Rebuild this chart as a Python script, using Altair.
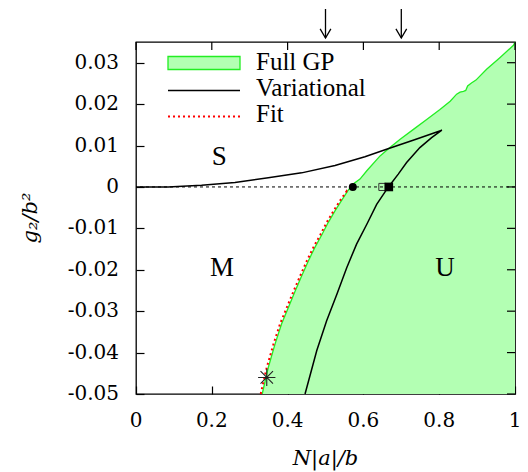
import altair as alt
import pandas as pd

# ---------------- data ----------------
# Full GP region: left boundary (x as a function of g2/b^2); region fills to x = 1
gp_x = [0.333, 0.349, 0.367, 0.384, 0.402, 0.420, 0.437, 0.455, 0.472, 0.490,
        0.507, 0.525, 0.543, 0.560, 0.573, 0.591, 0.609, 0.644, 0.670, 0.697,
        0.732, 0.767, 0.802, 0.829, 0.846, 0.855, 0.864, 0.870, 0.875, 0.885,
        0.897, 0.925, 0.960, 0.996, 1.0]
gp_y = [-0.0500, -0.0436, -0.0379, -0.0331, -0.0291, -0.0251, -0.0215, -0.0178, -0.0146, -0.0116,
        -0.0086, -0.0058, -0.0032, -0.0008, 0.0007, 0.0019, 0.0039, 0.0075, 0.0095, 0.0115,
        0.0139, 0.0163, 0.0187, 0.0207, 0.0224, 0.0229, 0.0231, 0.0233, 0.0244, 0.0251,
        0.0258, 0.0284, 0.0312, 0.0342, 0.0350]

# Variational curve (upper branch from the origin to the cusp, then the lower branch)
var_x = [0.0, 0.085, 0.173, 0.261, 0.349, 0.437, 0.525, 0.604, 0.661, 0.735, 0.807,
         0.780, 0.749, 0.714, 0.692, 0.666, 0.635, 0.609, 0.582, 0.556, 0.530, 0.503, 0.477, 0.446]
var_y = [0.0, 0.0, 0.0004, 0.0011, 0.0022, 0.0034, 0.0052, 0.0073, 0.0091, 0.0114, 0.0137,
         0.0119, 0.0095, 0.0059, 0.0031, 0.0, -0.0042, -0.0090, -0.0138, -0.0195, -0.0259, -0.0323, -0.0395, -0.0500]

# Fit curve
fit_x = [0.329, 0.345, 0.363, 0.380, 0.398, 0.416, 0.433, 0.451, 0.468, 0.486,
         0.503, 0.521, 0.539, 0.556, 0.560]
fit_y = [-0.0500, -0.0436, -0.0379, -0.0331, -0.0291, -0.0251, -0.0215, -0.0178, -0.0146, -0.0116,
         -0.0086, -0.0058, -0.0032, -0.0010, -0.0015]

x_ticks = [0, 0.2, 0.4, 0.6, 0.8, 1]
x_tick_labels = ["0", "0.2", "0.4", "0.6", "0.8", "1"]
y_ticks = [-0.05, -0.04, -0.03, -0.02, -0.01, 0, 0.01, 0.02, 0.03]
y_tick_labels = ["-0.05", "-0.04", "-0.03", "-0.02", "-0.01", "0", "0.01", "0.02", "0.03"]
x_title = "N|a|/b"
y_title = "g₂/b²"

circle_x, circle_y = [0.572], [0.0]
open_sq_x, open_sq_y = [0.650], [0.0]
filled_sq_x, filled_sq_y = [0.667], [0.0]
star_x, star_y = [0.345], [-0.046]
arrow_x = [0.5, 0.7]

region_labels = ["S", "M", "U"]
region_x = [0.22, 0.227, 0.815]
region_y = [0.0072, -0.0195, -0.0195]

legend_labels = ["Full GP", "Variational", "Fit"]

# ---------------- chart ----------------
W, H = 379, 352
FONT = "Liberation Serif"
NUMFONT = "DejaVu Serif"
FILL = "#b3ffb3"
EDGE = "#22ee22"

xs = alt.Scale(domain=[0, 1], nice=False, zero=False)
ys = alt.Scale(domain=[-0.05, 0.035], nice=False, zero=False)

gp = pd.DataFrame({"x": gp_x, "y": gp_y, "xr": [1.0] * len(gp_x), "i": range(len(gp_x))})
var = pd.DataFrame({"x": var_x, "y": var_y, "i": range(len(var_x))})
fit = pd.DataFrame({"x": fit_x, "y": fit_y, "i": range(len(fit_x))})

# axes supply the inward ticks on the bottom and left; their text is drawn as text marks
x_axis = alt.Axis(values=x_ticks, offset=-8, tickSize=8, domain=False, grid=False,
                  labels=False, tickColor="black", tickWidth=1.2, title=None)
y_axis = alt.Axis(values=y_ticks, offset=-8, tickSize=8, domain=False, grid=False,
                  labels=False, tickColor="black", tickWidth=1.2, title=None)


def X(field):
    return alt.X(field, scale=xs, axis=x_axis)


def Y(field):
    return alt.Y(field, scale=ys, axis=y_axis)


area = alt.Chart(gp).mark_area(orient="horizontal", color=FILL, opacity=1).encode(
    y=Y("y:Q"), x=X("x:Q"), x2="xr:Q",
)

edge = alt.Chart(gp).mark_line(color=EDGE, strokeWidth=1.3).encode(
    x=X("x:Q"), y=Y("y:Q"), order=alt.Order("i:Q"),
)

# mirrored inward ticks on the top and right sides
top_ticks = alt.Chart(pd.DataFrame({"x": x_ticks})).mark_rule(color="black", strokeWidth=1.2).encode(
    x=X("x:Q"), y=alt.value(0), y2=alt.value(8)
)
right_ticks = alt.Chart(pd.DataFrame({"y": y_ticks})).mark_rule(color="black", strokeWidth=1.2).encode(
    y=Y("y:Q"), x=alt.value(W - 8), x2=alt.value(W)
)

# tick labels and axis titles
x_lab = alt.Chart(pd.DataFrame({"x": x_ticks, "t": x_tick_labels})).mark_text(
    font=NUMFONT, fontSize=20, color="black", align="center", baseline="alphabetic"
).encode(x=X("x:Q"), y=alt.value(H + 33), text="t:N")
y_lab = alt.Chart(pd.DataFrame({"y": y_ticks, "t": y_tick_labels})).mark_text(
    font=NUMFONT, fontSize=20, color="black", align="right", baseline="middle"
).encode(y=Y("y:Q"), x=alt.value(-17), text="t:N")
x_tt = alt.Chart(pd.DataFrame({"t": [x_title]})).mark_text(
    font=NUMFONT, fontSize=21, fontStyle="italic", color="black", align="center", baseline="alphabetic"
).encode(x=alt.value(W / 2), y=alt.value(H + 71), text="t:N")
y_tt = alt.Chart(pd.DataFrame({"t": [y_title]})).mark_text(
    font=NUMFONT, fontSize=21, fontStyle="italic", color="black", align="center", baseline="alphabetic",
    angle=270,
).encode(x=alt.value(-99), y=alt.value(H / 2), text="t:N")

zero = alt.Chart(pd.DataFrame({"y": [0.0]})).mark_rule(
    color="black", strokeWidth=1, strokeDash=[3, 3]
).encode(y=Y("y:Q"))

var_line = alt.Chart(var).mark_line(color="black", strokeWidth=1.5).encode(
    x=X("x:Q"), y=Y("y:Q"), order=alt.Order("i:Q"),
)

fit_line = alt.Chart(fit).mark_line(color="red", strokeWidth=2, strokeDash=[2, 3]).encode(
    x=X("x:Q"), y=Y("y:Q"), order=alt.Order("i:Q"),
)

circ = alt.Chart(pd.DataFrame({"x": circle_x, "y": circle_y})).mark_point(
    shape="circle", filled=True, color="black", size=64, opacity=1
).encode(x=X("x:Q"), y=Y("y:Q"))

osq = alt.Chart(pd.DataFrame({"x": open_sq_x, "y": open_sq_y})).mark_point(
    shape="square", filled=False, color="#333333", size=50, strokeWidth=1, opacity=1
).encode(x=X("x:Q"), y=Y("y:Q"))

fsq = alt.Chart(pd.DataFrame({"x": filled_sq_x, "y": filled_sq_y})).mark_point(
    shape="square", filled=True, color="black", size=75, opacity=1
).encode(x=X("x:Q"), y=Y("y:Q"))

star = alt.Chart(pd.DataFrame({"x": star_x, "y": star_y})).mark_point(
    shape="M-1,0L1,0M0,-1L0,1M-0.72,-0.72L0.72,0.72M-0.72,0.72L0.72,-0.72",
    filled=False, color="#222222", size=300, strokeWidth=1.1, opacity=1
).encode(x=X("x:Q"), y=Y("y:Q"))

regions = alt.Chart(pd.DataFrame({"x": region_x, "y": region_y, "t": region_labels})).mark_text(
    font=FONT, fontSize=27, color="black", align="center", baseline="middle"
).encode(x=X("x:Q"), y=Y("y:Q"), text="t:N")

arrows_df = pd.DataFrame({"x": arrow_x})
arrow_shaft = alt.Chart(arrows_df).mark_rule(color="black", strokeWidth=1.3).encode(
    x=X("x:Q"), y=alt.value(-33), y2=alt.value(-4)
)
arrow_head = alt.Chart(arrows_df).mark_point(
    shape="M-1,-1.7L0,0L1,-1.7", filled=False, color="black", size=115, strokeWidth=1.3, opacity=1
).encode(x=X("x:Q"), y=alt.value(-4))

# legend (drawn inside the plot, top left)
one = pd.DataFrame({"a": [0]})
leg_rect = alt.Chart(one).mark_rect(fill=FILL, stroke=EDGE, strokeWidth=1.3).encode(
    x=alt.value(32), x2=alt.value(104), y=alt.value(14.5), y2=alt.value(27.5)
)
leg_var = alt.Chart(one).mark_rule(color="black", strokeWidth=1.5).encode(
    x=alt.value(32), x2=alt.value(104), y=alt.value(48.5)
)
leg_fit = alt.Chart(one).mark_rule(color="red", strokeWidth=2, strokeDash=[2, 3]).encode(
    x=alt.value(32), x2=alt.value(104), y=alt.value(74.5)
)
leg_texts = [
    alt.Chart(pd.DataFrame({"t": [lab]})).mark_text(
        font=FONT, fontSize=25, color="black", align="left", baseline="alphabetic"
    ).encode(x=alt.value(120), y=alt.value(yy), text="t:N")
    for lab, yy in zip(legend_labels, [28, 54, 80])
]

chart = alt.layer(
    area, edge, top_ticks, right_ticks, zero, var_line, fit_line, circ, osq, fsq, star, regions,
    arrow_shaft, arrow_head, leg_rect, leg_var, leg_fit, *leg_texts,
    x_lab, y_lab, x_tt, y_tt,
).properties(
    width=W, height=H,
    autosize=alt.AutoSizeParams(type="none"),
    padding={"left": 128, "top": 34, "right": 5, "bottom": 78},
).configure_view(stroke="black", strokeWidth=1.3)

chart.save("out.html", embed_options={"renderer": "svg", "actions": False})
